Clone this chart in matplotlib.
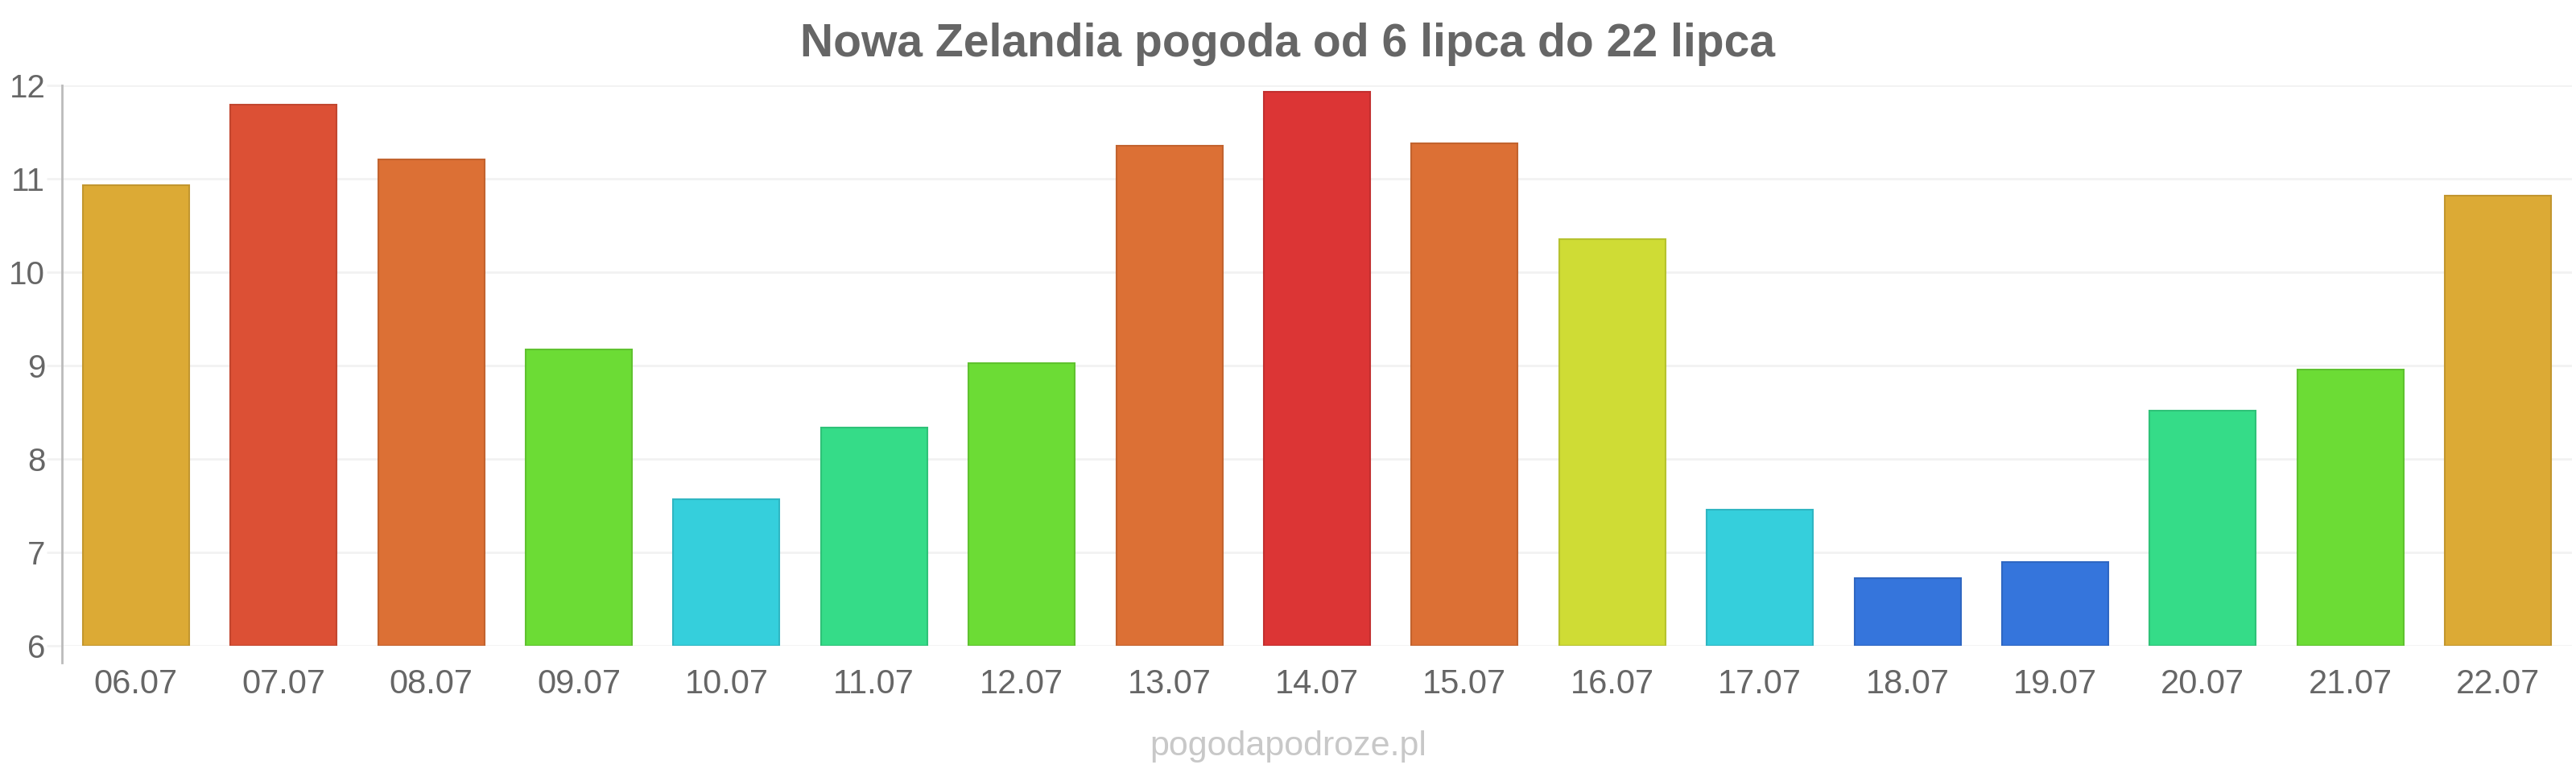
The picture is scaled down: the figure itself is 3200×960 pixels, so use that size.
import matplotlib
matplotlib.use("Agg")
import matplotlib.pyplot as plt
import numpy as np

plt.rcParams['font.family'] = ['Liberation Sans', 'DejaVu Sans']

# data
days = ["06.07", "07.07", "08.07", "09.07", "10.07", "11.07", "12.07", "13.07", "14.07",
        "15.07", "16.07", "17.07", "18.07", "19.07", "20.07", "21.07", "22.07"]
temps = [10.93, 11.79, 11.21, 9.17, 7.57, 8.34, 9.03, 11.35, 11.93,
         11.38, 10.35, 7.46, 6.72, 6.9, 8.52, 8.96, 10.82]
colors = ["#dcaa35", "#dc5035", "#dc7035", "#6cdc35", "#35cfdc", "#35dc88", "#6cdc35", "#dc7035", "#dc3535",
          "#dc7035", "#cfdc35", "#35cfdc", "#3575dc", "#3575dc", "#35dc88", "#6cdc35", "#dcaa35"]
yticks = [6, 7, 8, 9, 10, 11, 12]

def darker(c, f=0.88):
    r, g, b = matplotlib.colors.to_rgb(c)
    return (r * f, g * f, b * f)

fig = plt.figure(figsize=(32, 9.6), dpi=100)
ax = fig.add_axes([0.0241, 0.1646, 0.9743, 0.725])

x = np.arange(len(days))
base = yticks[0]
ax.bar(x, np.array(temps) - base, bottom=base, width=0.72, color=colors,
       edgecolor=[darker(c) for c in colors], linewidth=1.5, zorder=3)

ax.set_xlim(-0.5, len(days) - 0.5)
ax.set_ylim(yticks[0], yticks[-1])
ax.set_yticks(yticks)
ax.set_xticks(x)
ax.set_xticklabels(days)

ax.grid(axis='y', color='#f2f2f2', linewidth=2, zorder=0)
for s in ['top', 'right', 'bottom']:
    ax.spines[s].set_visible(False)
ax.spines['left'].set_color('#bbbbbb')
ax.spines['left'].set_linewidth(2)
ax.spines['left'].set_bounds(5.82, 12)

ax.tick_params(axis='y', length=14, width=2, color='#f2f2f2', pad=1,
               labelsize=29, labelcolor='#666666')
ax.tick_params(axis='x', length=0, pad=20, labelsize=30, labelcolor='#666666')

fig.text(0.5, 0.943, "Nowa Zelandia pogoda od 6 lipca do 22 lipca", ha='center', va='center',
         fontsize=41, fontweight='bold', color='#666666')
fig.text(0.5, 0.034, "pogodapodroze.pl", ha='center', va='center',
         fontsize=31, color='#c8c8c8')

fig.savefig("out.png", dpi=100, facecolor='white')
